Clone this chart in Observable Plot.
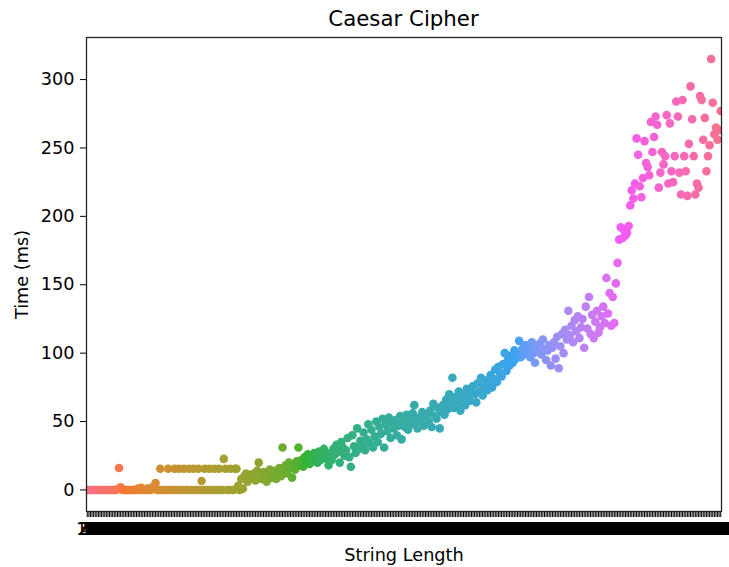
<!DOCTYPE html>
<html><head><meta charset="utf-8">
<script src="https://cdn.jsdelivr.net/npm/d3@7"></script>
<script src="https://cdn.jsdelivr.net/npm/@observablehq/plot@0.6"></script>
<style>
body{margin:0;background:#fff;}
#wrap{position:relative;width:729px;height:567px;overflow:hidden;}
#title{position:absolute;top:8px;left:86px;width:635px;text-align:center;font-family:"DejaVu Sans";font-size:21.3px;line-height:21px;color:#000;}
#chart{position:absolute;top:0;left:0;}
</style></head><body>
<div id="wrap"><div id="chart"></div><div id="title">Caesar Cipher</div></div>
<script>
const N = 400;
const lengths = d3.range(1, N + 1).map(i => i * 10);
const timeMs = [
  0,0,0,0,0,0,0,0,0,0,
  0,0,0,0,0,0,0,0,0,0.5,
  16,2,0,0,0,0,0,0,0,0,
  0,0,1,0,1.5,0,0,0,1,0,
  0,2,1,5,0,0,15.5,0,0,0,
  0,15.5,0,0,0,15.5,0,0,15.5,0,
  0,15.5,0,0,15.5,0,0,15.5,0,0,
  15.5,0,6.6,0,15.5,0,0,15.5,0,0,
  15.5,0,0,15.5,0,0,22.7,15.5,0,0,
  15.5,0,0,15.5,15.5,3,0,8,1,10,
  12,6,9,11,9,12,7,14,20,11,
  8,13,10,6,12,15,9,11,14,8,
  13,16,10,31,14,18,12,20,16,9,
  19,15,21,31,18,22,17,24,20,26,
  19,23,21,27,24,20,28,22,25,30,
  23,27,18,26,22,30,26,33,28,20,
  35,31,25,29,38,24,17,40,32,27,
  45,30,36,33,42,29,37,48,34,44,
  31,39,50,35,46,41,52,31,48,43,
  53,38,49,45,51,40,47,54,37,50,
  46,55,44,52,48,56,62,50,45,53,
  49,57,47,52,55,50,58,46,63,54,
  52,60,45,57,62,55,66,59,70,64,
  82,60,68,63,72,58,67,70,62,74,
  68,65,71,76,70,64,78,72,82,69,
  75,80,73,77,84,75,81,88,79,90,
  85,83,92,100,87,95,91,98,93,102,
  96,100,109,97,103,99,106,101,104,97,
  108,100,93,105,101,107,99,110,103,95,
  102,106,91,104,108,96,112,89,105,114,
  100,117,110,131,113,120,108,124,116,127,
  111,119,125,104,134,118,141,114,128,111,
  123,131,115,119,127,134,122,155,129,144,
  120,141,122,151,166,183,192,184,190,186,
  188,193,208,219,
  213,224,257,245,222,214,228,255,239,236,
  230,269,247,258,273,267,221,232,247,238,
  244,274,224,268,233,225,244,284,273,232,
  216,285,244,233,215,253,295,271,244,216,
  224,221,288,285,256,272,233,244,252,315,
  283,260,265,256,263,277
];
const yTicks = [0, 50, 100, 150, 200, 250, 300];

// seaborn-style husl palette (HSLuv) for N hues
function hsluvToHex(h, s, l) {
  const M = [[3.240969941904521,-1.537383177570093,-0.498610760293],
             [-0.96924363628087,1.87596750150772,0.041555057407175],
             [0.055630079696993,-0.20397695888897,1.056971514242878]];
  const refU = 0.19783000664283, refV = 0.46831999493879, kappa = 903.2962962, eps = 0.0088564516;
  const sub1 = Math.pow(l + 16, 3) / 1560896;
  const sub2 = sub1 > eps ? sub1 : l / kappa;
  const hr = h / 360 * 2 * Math.PI;
  let maxC = Infinity;
  for (const [m1, m2, m3] of M) for (const t of [0, 1]) {
    const top1 = (284517 * m1 - 94839 * m3) * sub2;
    const top2 = (838422 * m3 + 769860 * m2 + 731718 * m1) * l * sub2 - 769860 * t * l;
    const bottom = (632260 * m3 - 126452 * m2) * sub2 + 126452 * t;
    const len = (top2 / bottom) / (Math.sin(hr) - (top1 / bottom) * Math.cos(hr));
    if (len >= 0) maxC = Math.min(maxC, len);
  }
  const C = maxC / 100 * s;
  const U = C * Math.cos(hr), V = C * Math.sin(hr);
  const varU = U / (13 * l) + refU, varV = V / (13 * l) + refV;
  const Y = l <= 8 ? l / kappa : Math.pow((l + 16) / 116, 3);
  const X = -(9 * Y * varU) / ((varU - 4) * varV - varU * varV);
  const Z = (9 * Y - 15 * varV * Y - varV * X) / (3 * varV);
  const rgb = M.map(([a, b, c]) => {
    const v = a * X + b * Y + c * Z;
    const g = v <= 0.0031308 ? 12.92 * v : 1.055 * Math.pow(v, 1 / 2.4) - 0.055;
    return Math.max(0, Math.min(1, g)) * 255;
  });
  return d3.rgb(rgb[0], rgb[1], rgb[2]).formatHex();
}
const palette = lengths.map((_, i) => hsluvToHex(((i / N + 0.01) % 1) * 359, 89.1, 64.35));

const rows = timeMs.map((t, i) => ({len: lengths[i], time: t, color: palette[i]}));

const chart = Plot.plot({
  width: 729, height: 567,
  marginLeft: 86, marginRight: 8, marginTop: 37, marginBottom: 56,
  style: {fontFamily: "DejaVu Sans", fontSize: "17.7px", background: "white", color: "black"},
  x: {type: "point", domain: lengths, padding: 0.5},
  y: {domain: [-15.75, 330.75]},
  color: {type: "identity"},
  marks: [
    Plot.dot(rows, {x: "len", y: "time", fill: "color", r: 4.3, clip: true}),
    Plot.axisY(yTicks, {tickSize: 6, tickPadding: 6, label: "Time (ms)", labelAnchor: "center", labelOffset: 71, labelArrow: "none"}),
    Plot.axisX(lengths, {tickSize: 6, tickPadding: 5, tickFormat: d => String(d), label: "String Length", labelAnchor: "center", labelOffset: 49, labelArrow: "none"}),
    Plot.frame({stroke: "#222", strokeWidth: 1.3})
  ]
});
document.getElementById("chart").appendChild(chart);
</script>
</body></html>
